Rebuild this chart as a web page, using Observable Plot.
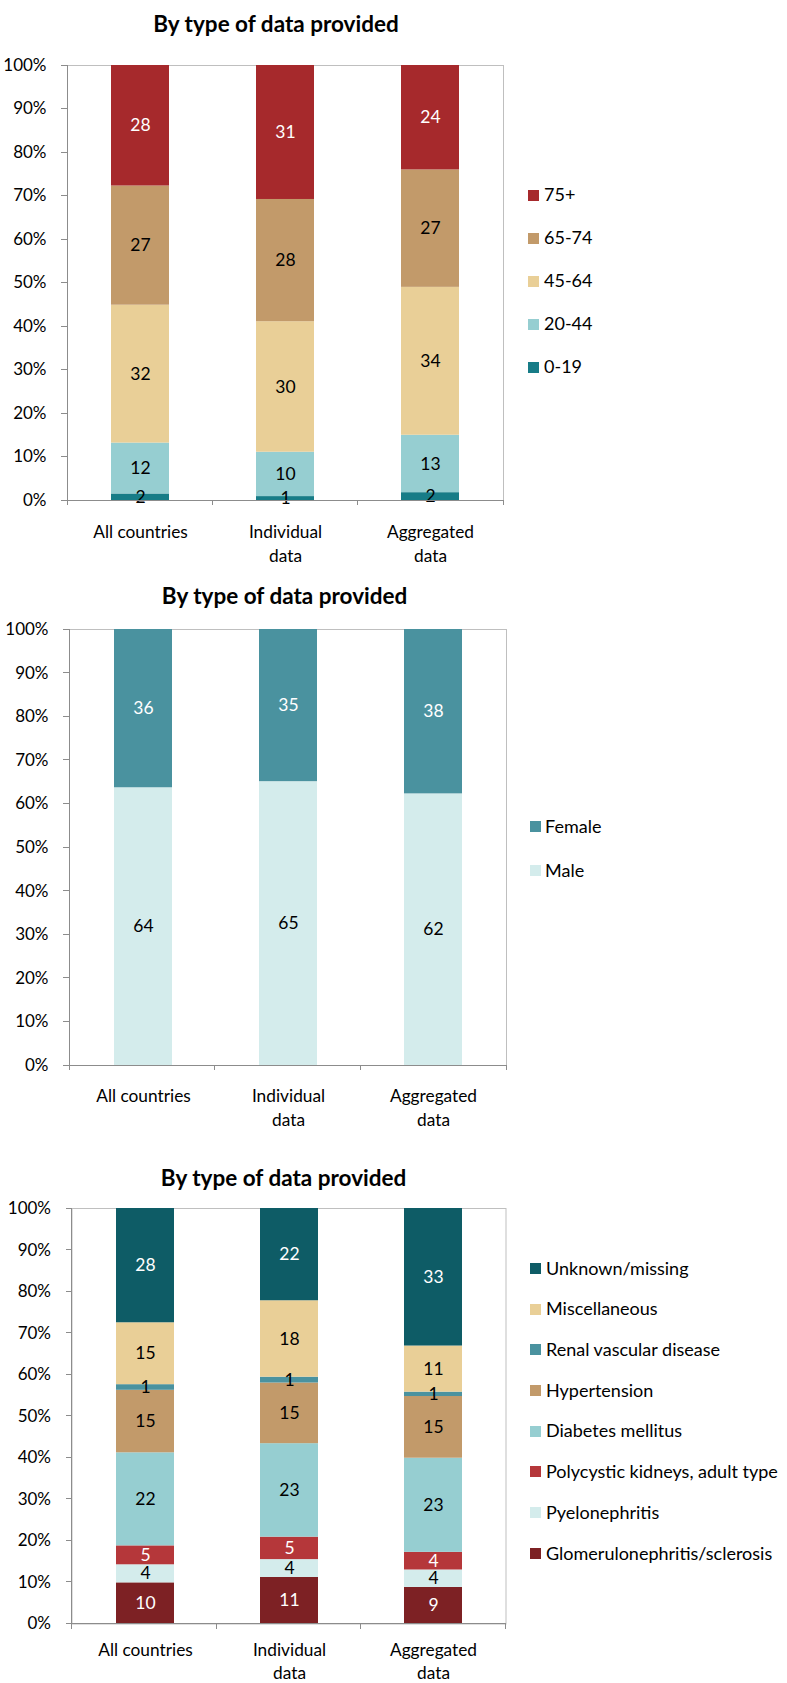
<!DOCTYPE html>
<html><head><meta charset="utf-8">
<script src="https://cdn.jsdelivr.net/npm/d3@7"></script>
<script src="https://cdn.jsdelivr.net/npm/@observablehq/plot@0.6"></script>
<style>
body{margin:0;background:#fff;}
#page{position:relative;width:787px;height:1683px;overflow:hidden;font-family:Lato,"Open Sans",sans-serif;color:#000;}
.title{position:absolute;width:400px;text-align:center;font-weight:700;font-size:22.5px;line-height:22.5px;white-space:nowrap;}
.chart{position:absolute;left:0;}
.lg-sw{position:absolute;width:11px;height:11px;}
.lg-tx{position:absolute;font-size:18px;line-height:18px;white-space:nowrap;}
</style></head><body><div id="page"></div>
<script>
// ---------- data ----------
const categories = ["All countries", "Individual data", "Aggregated data"];
const categoryLabels = ["All countries", "Individual\ndata", "Aggregated\ndata"];
const yTicks = [0, 10, 20, 30, 40, 50, 60, 70, 80, 90, 100];
const chartTitle = "By type of data provided";

// chart 1: age groups (bottom to top), shares in % per category
const ageGroups = ["0-19", "20-44", "45-64", "65-74", "75+"];
const ageColors = ["#177C87", "#96CED1", "#E9CF97", "#C29A6A", "#A6292C"];
const ageTextColors = ["#000", "#000", "#000", "#000", "#fff"];
const ageShares = [
  [1.5, 0.9, 1.8],
  [11.7, 10.2, 13.2],
  [31.7, 30.0, 34.0],
  [27.4, 28.1, 27.0],
  [27.7, 30.8, 24.0]
];

// chart 2: sex (bottom to top)
const sexGroups = ["Male", "Female"];
const sexColors = ["#D4ECEC", "#4A929F"];
const sexTextColors = ["#000", "#fff"];
const sexShares = [
  [63.7, 65.1, 62.3],
  [36.3, 34.9, 37.7]
];

// chart 3: primary renal disease (bottom to top)
const causeGroups = ["Glomerulonephritis/sclerosis", "Pyelonephritis", "Polycystic kidneys, adult type",
  "Diabetes mellitus", "Hypertension", "Renal vascular disease", "Miscellaneous", "Unknown/missing"];
const causeColors = ["#7D2124", "#D4ECEC", "#B5373A", "#96CED1", "#C29A6A", "#4A929F", "#E9CF97", "#0E5C66"];
const causeTextColors = ["#fff", "#000", "#fff", "#000", "#000", "#000", "#000", "#fff"];
const causeShares = [
  [9.9, 11.2, 8.8],
  [4.35, 4.3, 4.2],
  [4.55, 5.4, 4.25],
  [22.4, 22.5, 22.65],
  [15.05, 14.6, 14.85],
  [1.35, 1.4, 1.05],
  [14.9, 18.4, 11.1],
  [27.5, 22.2, 33.1]
];

// ---------- drawing ----------
const page = document.getElementById("page");

function axesMark(dims) {
  return (index, scales, values, dimensions) => {
    const d = dimensions || dims;
    const x0 = d.marginLeft, x1 = d.width - d.marginRight;
    const yb = d.height - d.marginBottom, yt = d.marginTop;
    const g = d3.create("svg:g").attr("stroke", "#8C8C8C").attr("shape-rendering", "crispEdges");
    g.append("line").attr("x1", x0).attr("x2", x0).attr("y1", yt).attr("y2", yb);
    g.append("line").attr("x1", x0).attr("x2", x1).attr("y1", yb).attr("y2", yb);
    for (const t of yTicks) {
      const y = scales.y(t);
      g.append("line").attr("x1", x0 - 6).attr("x2", x0).attr("y1", y).attr("y2", y);
    }
    const n = categories.length;
    for (let i = 0; i <= n; i++) {
      const x = x0 + i * (x1 - x0) / n;
      g.append("line").attr("x1", x).attr("x2", x).attr("y1", yb).attr("y2", yb + 5);
    }
    return g.node();
  };
}

function stackedChart(cfg) {
  const {groups, colors, textColors, shares, top, marginLeft, marginRight, plotHeight, marginBottom,
         labelDy, labelLineHeight, legendTop, legendStep, legendSwatchX, legendTextX, titleX, titleBaseline} = cfg;
  const marginTop = 20;
  const rows = groups.flatMap((g, gi) => categories.map((c, ci) => ({
    category: c, group: g, share: shares[gi][ci], label: Math.round(shares[gi][ci]), white: textColors[gi] === "#fff"
  })));
  const height = marginTop + plotHeight + marginBottom;
  const dims = {width: 787, height, marginTop, marginLeft, marginRight, marginBottom};
  const svg = Plot.plot({
    width: 787, height, marginTop, marginLeft, marginRight, marginBottom,
    style: {fontFamily: "Lato, 'Open Sans', sans-serif", fontSize: "17px", color: "#000", background: "transparent"},
    x: {domain: categories, paddingInner: 0.6, paddingOuter: 0.3, axis: null},
    y: {domain: [0, 100], ticks: yTicks, tickFormat: d => d + "%", tickSize: 0, tickPadding: 21, label: null},
    color: {domain: groups, range: colors},
    marks: [
      Plot.frame({stroke: "#BFBFBF"}),
      Plot.barY(rows, {x: "category", y: "share", fill: "group"}),
      Plot.text(rows, Plot.stackY({x: "category", y: "share", text: d => d.white ? null : String(d.label), fill: "black", fontSize: 17.5})),
      Plot.text(rows, Plot.stackY({x: "category", y: "share", text: d => d.white ? String(d.label) : null, fill: "white", fontSize: 17.5})),
      Plot.text(categories, {x: d => d, text: (d, i) => categoryLabels[i], frameAnchor: "bottom", lineAnchor: "top",
        dy: labelDy, lineHeight: labelLineHeight, fontSize: 17.3, fill: "black"}),
      axesMark(dims)
    ]
  });
  const wrap = document.createElement("div");
  wrap.className = "chart";
  wrap.style.top = top + "px";
  wrap.appendChild(svg);
  page.appendChild(wrap);

  const t = document.createElement("div");
  t.className = "title";
  t.textContent = chartTitle;
  t.style.left = (titleX - 200) + "px";
  t.style.top = (titleBaseline - 20) + "px";
  page.appendChild(t);

  // legend: top series first
  const order = groups.map((g, i) => i).reverse();
  order.forEach((gi, k) => {
    const cy = legendTop + k * legendStep;
    const sw = document.createElement("div");
    sw.className = "lg-sw";
    sw.style.background = colors[gi];
    sw.style.left = legendSwatchX + "px";
    sw.style.top = (cy - 5.5) + "px";
    page.appendChild(sw);
    const tx = document.createElement("div");
    tx.className = "lg-tx";
    tx.textContent = groups[gi];
    tx.style.left = legendTextX + "px";
    tx.style.top = (cy - 9.7) + "px";
    page.appendChild(tx);
  });
}

stackedChart({groups: ageGroups, colors: ageColors, textColors: ageTextColors, shares: ageShares,
  top: 45, marginLeft: 67, marginRight: 284, plotHeight: 435, marginBottom: 65, labelDy: 20.5, labelLineHeight: 1.4,
  legendTop: 195, legendStep: 43, legendSwatchX: 527.5, legendTextX: 544, titleX: 276, titleBaseline: 32.7});

stackedChart({groups: sexGroups, colors: sexColors, textColors: sexTextColors, shares: sexShares,
  top: 609, marginLeft: 69, marginRight: 281, plotHeight: 436, marginBottom: 65, labelDy: 19.5, labelLineHeight: 1.37,
  legendTop: 826.3, legendStep: 44.4, legendSwatchX: 529.5, legendTextX: 545, titleX: 284.6, titleBaseline: 605});

stackedChart({groups: causeGroups, colors: causeColors, textColors: causeTextColors, shares: causeShares,
  top: 1188, marginLeft: 71.5, marginRight: 281.5, plotHeight: 415.5, marginBottom: 59, labelDy: 16, labelLineHeight: 1.32,
  legendTop: 1268.3, legendStep: 40.7, legendSwatchX: 530, legendTextX: 546, titleX: 283.6, titleBaseline: 1187.4});
</script>
</body></html>
